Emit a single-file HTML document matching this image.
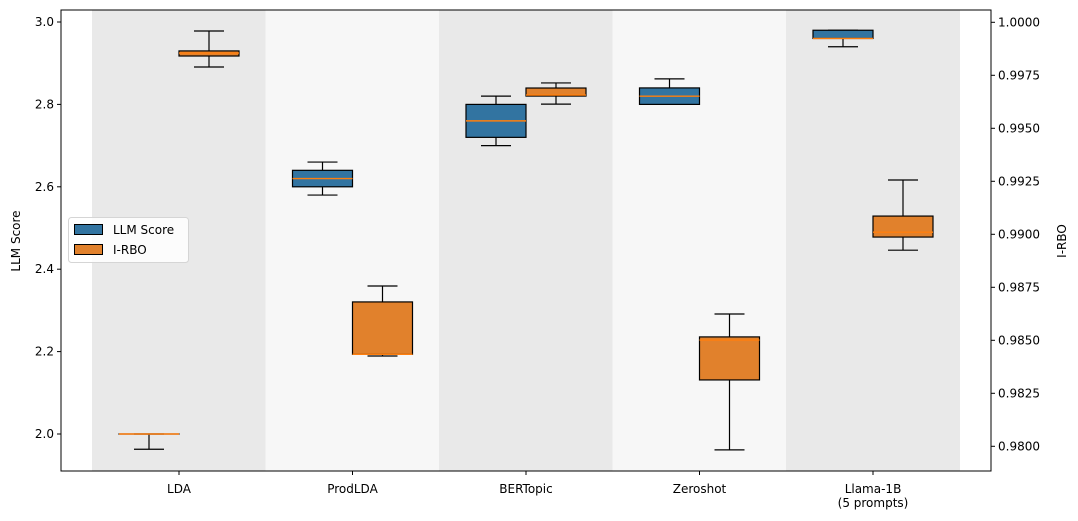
<!DOCTYPE html>
<html><head><meta charset="utf-8"><style>
html,body{margin:0;padding:0;background:#fff;}
svg{display:block;font-family:"DejaVu Sans","Liberation Sans",sans-serif;}
</style></head><body>
<svg id="chart" width="1078" height="521" viewBox="0 0 1078 521"></svg>
<script>
const categories = ["LDA","ProdLDA","BERTopic","Zeroshot","Llama-1B\n(5 prompts)"];
// [whislo, q1, med, q3, whishi]
const llmScore = [
  [1.963,2.0,2.0,2.0,2.0],
  [2.58,2.60,2.62,2.64,2.66],
  [2.70,2.72,2.76,2.80,2.82],
  [2.80,2.80,2.82,2.84,2.862],
  [2.94,2.96,2.96,2.98,2.98]
];
const irbo = [
  [0.99789,0.99841,0.99855,0.99865,0.99959],
  [0.98426,0.98434,0.98434,0.98681,0.98756],
  [0.99614,0.99652,0.99657,0.99690,0.99714],
  [0.97983,0.98313,0.98501,0.98516,0.98624],
  [0.98925,0.98987,0.99010,0.99086,0.99256]
];
const leftTicks = [2.0,2.2,2.4,2.6,2.8,3.0];
const rightTicks = [0.9800,0.9825,0.9850,0.9875,0.9900,0.9925,0.9950,0.9975,1.0000];

const NS="http://www.w3.org/2000/svg";
const svg=document.getElementById('chart');
function el(t,a,p){const e=document.createElementNS(NS,t);for(const k in a)e.setAttribute(k,a[k]);(p||svg).appendChild(e);return e;}
const X0=61,X1=991,Y0=10,Y1=471;
const yL=v=>434-(v-2.0)*412;
const yR=v=>22.3+(1-v)/0.0025*53;
const xC=i=>179+i*173.5;

categories.forEach((c,i)=>{
  const b=el('rect',{x:xC(i)-87,y:Y0,width:174,height:Y1-Y0,fill:i%2==0?'#e9e9e9':'#f7f7f7'});
  
  
});

function drawBox(s,cx,yf,fill,name){
  const g=el('g',{});
  
  
  const [lo,q1,md,q3,hi]=s;
  el('line',{x1:cx,x2:cx,y1:yf(hi),y2:yf(q3),stroke:'#000','stroke-width':1.2},g);
  el('line',{x1:cx,x2:cx,y1:yf(q1),y2:yf(lo),stroke:'#000','stroke-width':1.2},g);
  el('line',{x1:cx-15,x2:cx+15,y1:yf(hi),y2:yf(hi),stroke:'#000','stroke-width':1.2},g);
  el('line',{x1:cx-15,x2:cx+15,y1:yf(lo),y2:yf(lo),stroke:'#000','stroke-width':1.2},g);
  el('rect',{x:cx-30,y:yf(q3),width:60,height:Math.max(0.01,yf(q1)-yf(q3)),fill:fill,stroke:'#000','stroke-width':1.2},g);
  el('line',{x1:cx-30,x2:cx+30,y1:yf(md),y2:yf(md),stroke:'#ff7f0e','stroke-width':1.4},g);
}
categories.forEach((c,i)=>{
  drawBox(llmScore[i],xC(i)-30,yL,'#3274a1','llm-score-box-'+i);
  drawBox(irbo[i],xC(i)+30,yR,'#e1812c','irbo-box-'+i);
});

const fr=el('rect',{x:X0,y:Y0,width:X1-X0,height:Y1-Y0,fill:'none',stroke:'#000','stroke-width':1});



leftTicks.forEach(v=>{
  const y=yL(v);
  el('line',{x1:X0-4,x2:X0,y1:y,y2:y,stroke:'#000'});
  const t=el('text',{x:X0-7,y:y+4,'font-size':12,'text-anchor':'end'});t.textContent=v.toFixed(1);
  
  
});
rightTicks.forEach(v=>{
  const y=yR(v);
  el('line',{x1:X1,x2:X1+4,y1:y,y2:y,stroke:'#000'});
  const t=el('text',{x:X1+7,y:y+4,'font-size':12});t.textContent=v.toFixed(4);
  
  
});
categories.forEach((c,i)=>{
  const x=xC(i);
  el('line',{x1:x,x2:x,y1:Y1,y2:Y1+4,stroke:'#000'});
  c.split('\n').forEach((ln,j)=>{
    const t=el('text',{x:x,y:493+j*14,'font-size':12,'text-anchor':'middle'});t.textContent=ln;
    
    
  });
});
const yl=el('text',{x:20,y:241,'font-size':12,'text-anchor':'middle',transform:'rotate(-90 20 241)'});yl.textContent='LLM Score';


const yr=el('text',{x:1066,y:241,'font-size':12,'text-anchor':'middle',transform:'rotate(-90 1066 241)'});yr.textContent='I-RBO';



const lg=el('g',{});


el('rect',{x:68.5,y:217.5,width:120,height:45,rx:3,fill:'#fff','fill-opacity':0.85,stroke:'#d5d5d5'},lg);
[['LLM Score','#3274a1'],['I-RBO','#e1812c']].forEach((d,j)=>{
  const e=el('g',{},lg);
  
  
  el('rect',{x:74.5,y:224.5+j*20,width:28,height:10,fill:d[1],stroke:'#000'},e);
  const t=el('text',{x:113,y:234+j*20,'font-size':12},e);t.textContent=d[0];
});
</script>
</body></html>
